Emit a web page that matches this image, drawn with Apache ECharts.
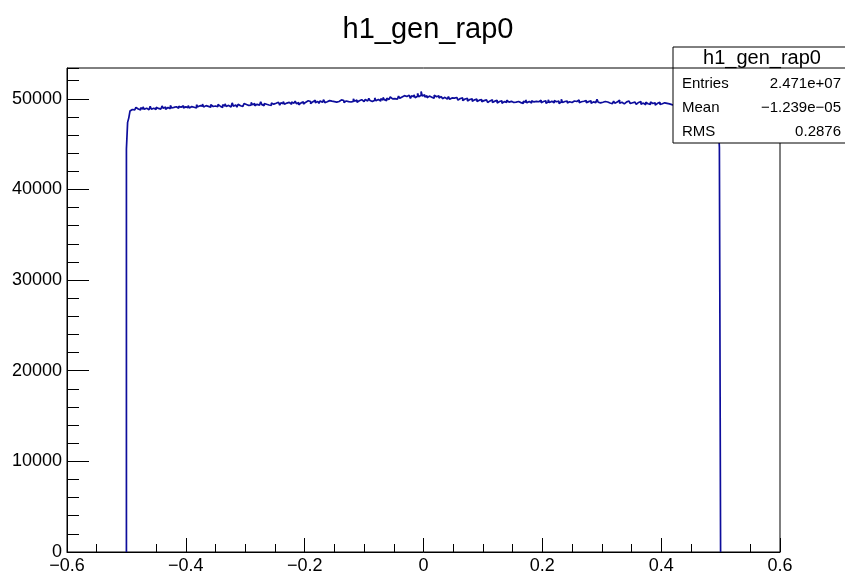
<!DOCTYPE html>
<html>
<head>
<meta charset="utf-8">
<script src="https://cdn.jsdelivr.net/npm/echarts@6/dist/echarts.min.js"></script>
<style>html,body{margin:0;padding:0;background:#fff}#c{width:845px;height:575px}</style>
</head>
<body>
<div id="c"></div>
<script>
// Histogram definition
const title = "h1_gen_rap0";
const binLow = -0.5;
const binWidth = 0.002;
const xTicks = [-0.6, -0.4, -0.2, 0, 0.2, 0.4, 0.6];
const yTicks = [0, 10000, 20000, 30000, 40000, 50000];
const statsLabels = ["Entries", "Mean", "RMS"];
const statsValues = ["2.471e+07", "\u22121.239e\u221205", "0.2876"];

// Bin contents (500 bins from -0.5 to 0.5)
const binContents = [
44480,47400,47900,48650,48820,48950,48780,48900,49050,48870,48930,48760,49010,48880,49120,48840,48970,49060,48790,48910,49180,48850,48960,49030,48820,
49080,48940,49150,48870,49020,49210,48960,49090,48830,49040,49160,48920,49270,48990,49050,48880,49130,49010,48950,49190,49060,48900,49230,49000,49110,
49180,49030,49260,48990,49140,49310,49070,49200,48980,49350,49120,49240,49060,49190,49420,49100,49250,49030,49170,49290,49080,49360,49150,49020,49210,
49300,49120,49380,49190,49270,49050,49340,49210,49460,49150,49280,49370,49100,49240,49550,49190,49320,49260,49080,49400,49230,49350,49160,49290,49480,
49380,49520,49270,49440,49310,49600,49350,49470,49230,49390,49510,49300,49420,49680,49360,49250,49490,49400,49560,49320,49450,49280,49530,49410,49370,
49510,49380,49620,49450,49290,49560,49470,49700,49410,49530,49350,49600,49480,49390,49640,49520,49430,49750,49460,49580,49340,49550,49490,49660,49420,
49630,49520,49780,49590,49700,49460,49680,49600,49850,49550,49720,49640,49490,49760,49610,49700,49900,49580,49670,49530,49800,49650,49740,49560,49690,
49770,49640,49850,49700,49600,49880,49730,49810,49580,49760,49950,49690,49820,49650,49780,49720,50000,49740,49860,49610,49790,49700,49900,49750,49680,
49820,49930,49760,49880,50050,49810,49700,49900,49850,50100,49790,49920,49860,49740,50000,49870,50150,49910,49800,50060,49940,49880,50200,49990,50080,
50020,50180,49950,50120,50300,50060,50210,50000,50350,50150,50260,50090,50400,50180,50050,50320,50220,50450,50130,50280,50600,50240,50380,50800,50300,
50450,50200,50350,50120,50300,50500,50180,50270,50050,50400,50220,50150,50330,50080,50250,50380,50020,50160,50300,49980,50120,50230,49950,50100,50010,
50080,49900,50150,49960,49850,50040,49920,50100,49800,49980,49870,50050,49760,49930,49840,50000,49720,49890,49800,49960,49700,49850,49780,49920,49690,
49800,49650,49880,49720,49600,49770,49680,49900,49580,49740,49660,49830,49550,49700,49620,49780,49500,49690,49750,49600,49840,49630,49560,49720,49650,
49590,49760,49640,49520,49700,49820,49580,49680,49490,49740,49620,49880,49560,49700,49630,49530,49780,49660,49590,49720,49500,49680,49610,49850,49570,
49700,49600,49780,49520,49660,49900,49580,49730,49640,49550,49800,49680,49600,49740,49480,49650,49950,49590,49700,49620,49760,49530,49680,49850,49600,
49650,49760,49540,49700,49620,49880,49580,49680,49500,49730,49640,49820,49560,49690,49600,49780,49520,49660,49740,49580,49700,49950,49620,49550,49700,
49620,49480,49700,49580,49650,49820,49540,49680,49460,49600,49750,49520,49640,49580,49860,49500,49620,49700,49440,49580,49660,49520,49760,49590,49480,
49560,49420,49640,49500,49380,49600,49460,49700,49400,49530,49480,49350,49620,49450,49540,49380,49660,49480,49400,49560,49300,49500,49440,49620,49380,
49460,49340,49560,49420,49500,49280,49440,49600,49360,49480,49300,49520,49400,49460,49320,49560,49380,49450,49260,49500,49420,49340,49480,49380,49300,
49420,49300,49480,49360,49250,49440,49320,49500,49280,49400,49340,49220,49460,49300,49380,49260,49420,49320,49240,49360,49000,48750,48100,47400,44600
];

// Build step outline from bin edges
const stepPts = [[binLow, 0]];
binContents.forEach((v, i) => {
  const lo = +(binLow + i * binWidth).toFixed(6);
  const hi = +(binLow + (i + 1) * binWidth).toFixed(6);
  stepPts.push([lo, v], [hi, v]);
});
stepPts.push([+(binLow + binContents.length * binWidth).toFixed(6), 0]);

const FONT = "Liberation Sans, Arial, Helvetica, sans-serif";
const yMax = 53400;
const fmtX = v => {
  const r = Math.round(v * 10) / 10;
  if (r === 0) return "0";
  return String(r).replace("-", "\u2212");
};

const chart = echarts.init(document.getElementById('c'), null, {renderer: 'canvas'});
chart.setOption({
  animation: false,
  backgroundColor: '#ffffff',
  title: {
    text: title, left: 423, top: 10, textAlign: 'center',
    textStyle: {fontFamily: FONT, fontSize: 29, fontWeight: 'normal', color: '#000'}
  },
  grid: {left: 67, right: 65, top: 68, bottom: 23, show: true, borderColor: '#000', borderWidth: 1, backgroundColor: 'transparent'},
  xAxis: {
    type: 'value', min: xTicks[0], max: xTicks[xTicks.length - 1], interval: 0.2,
    axisLine: {show: true, onZero: false, lineStyle: {color: '#000', width: 1}},
    axisTick: {show: true, inside: true, length: 14, lineStyle: {color: '#000', width: 1}},
    minorTick: {show: true, splitNumber: 4, length: 8, lineStyle: {color: '#000', width: 1}},
    splitLine: {show: false}, minorSplitLine: {show: false},
    axisLabel: {fontFamily: FONT, fontSize: 18, color: '#000', margin: 5, formatter: fmtX}
  },
  yAxis: [{
    type: 'value', min: yTicks[0], max: yMax, interval: 10000, position: 'left',
    axisLine: {show: true, onZero: false, lineStyle: {color: '#000', width: 1}},
    axisTick: {show: true, inside: true, length: 22, lineStyle: {color: '#000', width: 1}},
    splitLine: {show: false},
    axisLabel: {fontFamily: FONT, fontSize: 18, color: '#000', margin: 5, showMaxLabel: false,
      formatter: v => (yTicks.indexOf(v) >= 0 ? String(v) : '')}
  }, {
    type: 'value', min: yTicks[0], max: yMax, interval: 2000, position: 'left', offset: 0,
    axisLine: {show: false, onZero: false},
    axisTick: {show: true, inside: true, length: 12, lineStyle: {color: '#000', width: 1}},
    splitLine: {show: false},
    axisLabel: {show: false}
  }],
  series: [{
    type: 'line', data: stepPts, yAxisIndex: 0, showSymbol: false, symbol: 'none',
    silent: true,
    lineStyle: {color: '#0d0d9c', width: 1.7}
  }],
  graphic: [
    {type: 'rect', shape: {x: 673, y: 47, width: 180, height: 96}, z: 100,
      style: {fill: '#fff', stroke: '#000', lineWidth: 1}},
    {type: 'line', shape: {x1: 673, y1: 68, x2: 845, y2: 68}, z: 101, style: {stroke: '#000', lineWidth: 1}},
    {type: 'text', x: 762, y: 58, z: 102, style: {text: title, font: '20px ' + FONT, fill: '#000', textAlign: 'center', textVerticalAlign: 'middle'}},
    ...statsLabels.map((t, i) => ({type: 'text', x: 682, y: 84 + i * 24, z: 102,
      style: {text: t, font: '15px ' + FONT, fill: '#000', textAlign: 'left', textVerticalAlign: 'middle'}})),
    ...statsValues.map((t, i) => ({type: 'text', x: 841, y: 84 + i * 24, z: 102,
      style: {text: t, font: '15px ' + FONT, fill: '#000', textAlign: 'right', textVerticalAlign: 'middle'}}))
  ]
});
</script>
</body>
</html>
